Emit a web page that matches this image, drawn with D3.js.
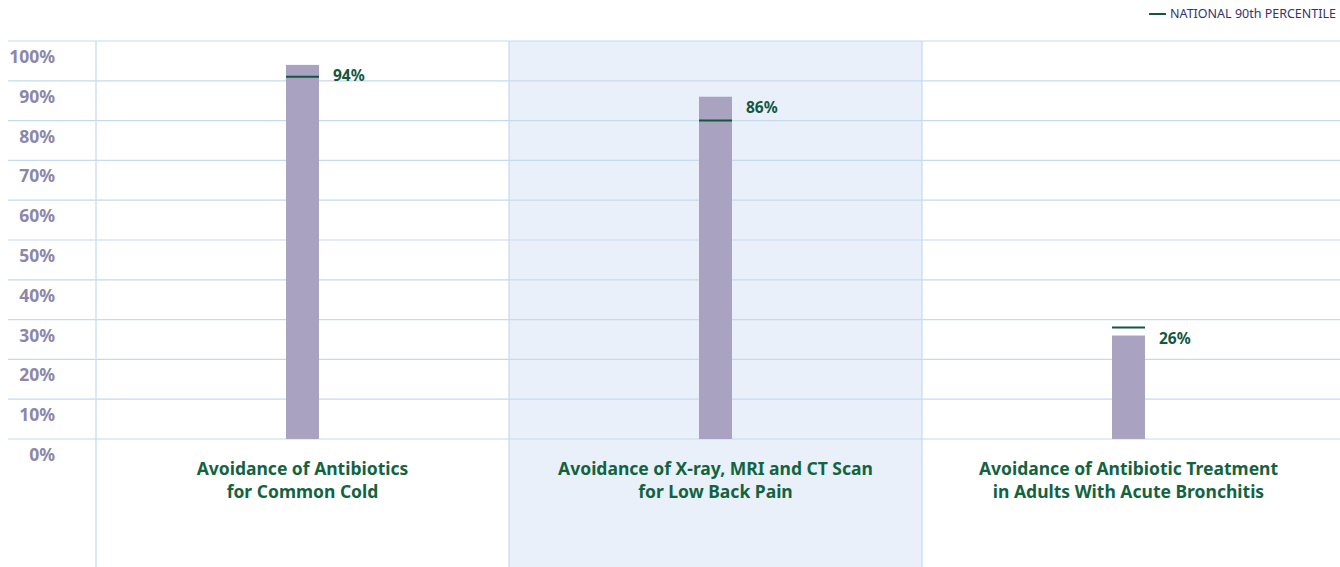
<!DOCTYPE html>
<html>
<head>
<meta charset="utf-8">
<script src="https://cdn.jsdelivr.net/npm/d3@7"></script>
<style>
  body { margin: 0; background: #fff; }
  svg text { font-family: "Noto Sans", "Open Sans", sans-serif; }
</style>
</head>
<body>
<div id="graf"></div>
<script>
// datos
measures = [
  ['Avoidance of Antibiotics', 'for Common Cold'],
  ['Avoidance of X-ray, MRI and CT Scan', 'for Low Back Pain'],
  ['Avoidance of Antibiotic Treatment', 'in Adults With Acute Bronchitis']
]
rates = [94, 86, 26]
benchmark90 = [91, 80, 28]
yTicks = [0, 10, 20, 30, 40, 50, 60, 70, 80, 90, 100]

ancho_total = 1340
alto_total = 567

svg = d3.select('#graf').append('svg')
  .attr('width', ancho_total)
  .attr('height', alto_total)

keys = measures.map((d, i) => i)

x = d3.scaleBand().domain(keys).range([96, 1335])
y = d3.scaleLinear().domain([0, 100]).range([439, 41])

// panel central sombreado
svg.append('rect')
  .attr('x', x(1)).attr('y', y(100))
  .attr('width', x.bandwidth()).attr('height', alto_total - y(100))
  .attr('fill', '#e9f0fa')

// lineas de la rejilla
svg.selectAll('.grid')
  .data(yTicks)
  .join('line')
  .attr('x1', 8).attr('x2', ancho_total)
  .attr('y1', d => y(d)).attr('y2', d => y(d))
  .attr('stroke', '#c6d9ee').attr('stroke-width', 1.2)

// separadores verticales
svg.selectAll('.sep')
  .data(keys)
  .join('line')
  .attr('x1', d => x(d)).attr('x2', d => x(d))
  .attr('y1', y(100)).attr('y2', alto_total)
  .attr('stroke', '#c6d9ee').attr('stroke-width', 1.2)

// etiquetas eje y (debajo de cada linea)
svg.selectAll('.ylab')
  .data(yTicks)
  .join('text')
  .attr('x', 55)
  .attr('y', d => y(d) + 22)
  .attr('text-anchor', 'end')
  .attr('font-size', 17.5)
  .attr('font-weight', 'bold')
  .attr('fill', '#8b87aa')
  .text(d => d + '%')

barW = 33

// barras
svg.selectAll('.bar')
  .data(rates)
  .join('rect')
  .attr('x', (d, i) => x(i) + x.bandwidth() / 2 - barW / 2)
  .attr('y', d => y(d))
  .attr('width', barW)
  .attr('height', d => y(0) - y(d))
  .attr('fill', '#a9a2c0')

// percentil 90 nacional
svg.selectAll('.bench')
  .data(benchmark90)
  .join('line')
  .attr('x1', (d, i) => x(i) + x.bandwidth() / 2 - barW / 2)
  .attr('x2', (d, i) => x(i) + x.bandwidth() / 2 + barW / 2)
  .attr('y1', d => y(d)).attr('y2', d => y(d))
  .attr('stroke', '#13573f').attr('stroke-width', 2)

// valores
svg.selectAll('.val')
  .data(rates)
  .join('text')
  .attr('x', (d, i) => x(i) + x.bandwidth() / 2 + barW / 2 + 14)
  .attr('y', (d, i) => y(Math.max(d, benchmark90[i])) + 16)
  .attr('font-size', 15.5)
  .attr('font-weight', 'bold')
  .attr('fill', '#13573f')
  .text(d => d + '%')

// nombres de las medidas
cat = svg.selectAll('.cat')
  .data(measures)
  .join('text')
  .attr('x', (d, i) => x(i) + x.bandwidth() / 2)
  .attr('y', 475)
  .attr('text-anchor', 'middle')
  .attr('font-size', 17.5)
  .attr('font-weight', 'bold')
  .attr('fill', '#13633f')

cat.selectAll('tspan')
  .data(d => d)
  .join('tspan')
  .attr('x', function () { return d3.select(this.parentNode).attr('x') })
  .attr('dy', (d, i) => i ? 23 : 0)
  .text(d => d)

// leyenda
legText = svg.append('text')
  .attr('x', 1336).attr('y', 18)
  .attr('text-anchor', 'end')
  .attr('font-size', 12.5)
  .attr('fill', '#35346a')
  .text('NATIONAL 90th PERCENTILE')
legW = legText.node().getComputedTextLength()
svg.append('line')
  .attr('x1', 1336 - legW - 21).attr('x2', 1336 - legW - 4)
  .attr('y1', 14).attr('y2', 14)
  .attr('stroke', '#13573f').attr('stroke-width', 2)
</script>
</body>
</html>
